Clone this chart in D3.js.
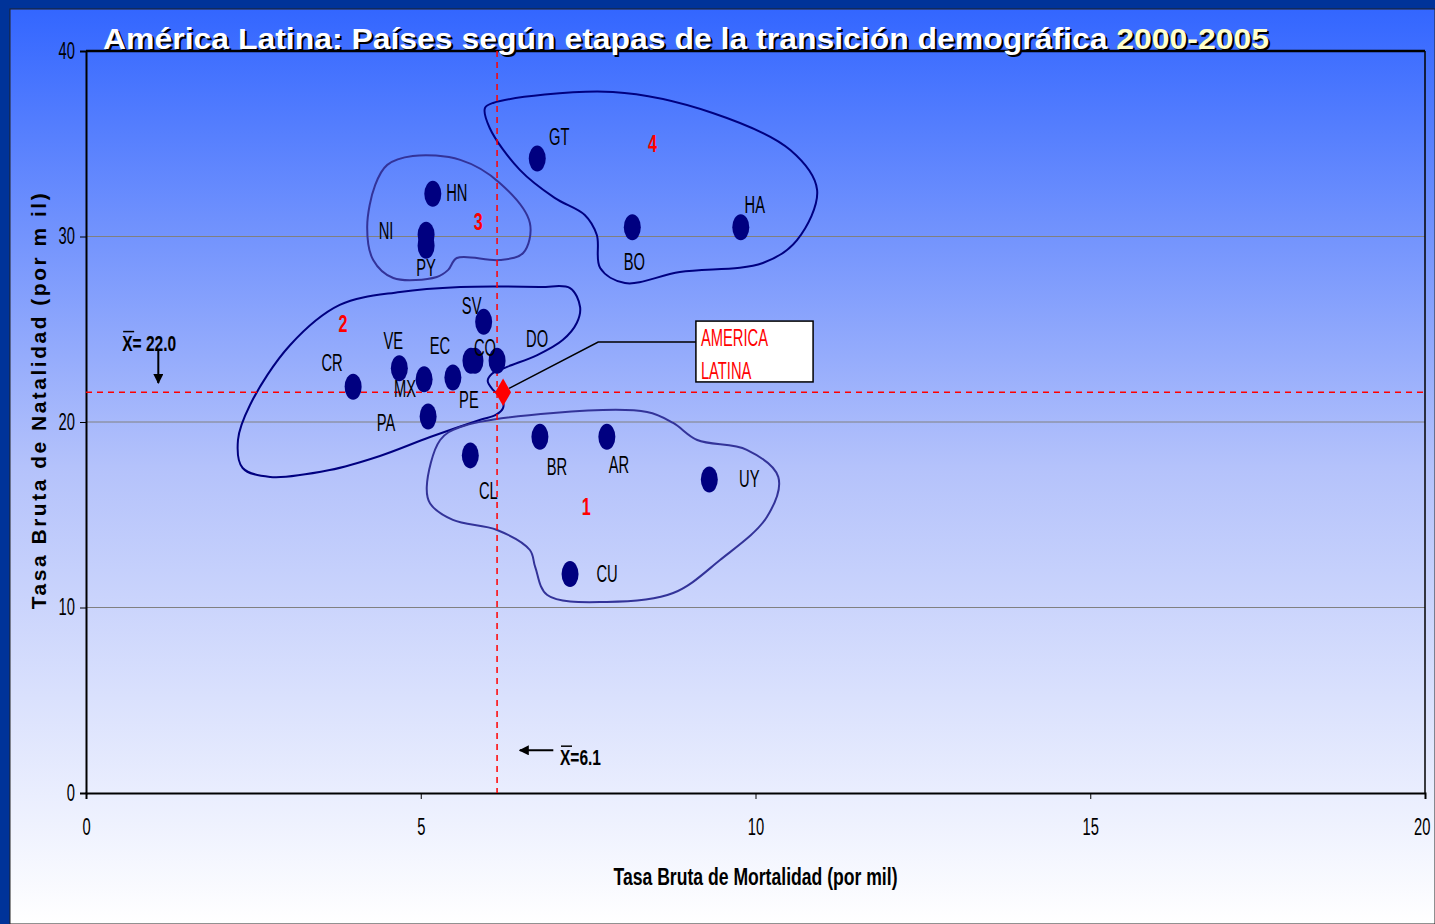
<!DOCTYPE html>
<meta charset="utf-8">
<head>
<style>
  body { margin: 0; }
  text { font-family: "Liberation Sans", Arial, sans-serif; }
  .tick text { font-size: 23px; fill: #000; }
</style>
</head>
<script src="https://d3js.org/d3.v7.min.js"></script>
<div id="chart"></div>
<script>
// countries and their rates (per thousand), 2000-2005
var countries = ["GT","HN","NI","PY","BO","HA","SV","EC","CO","DO","VE","CR","MX","PE","PA","CL","BR","AR","UY","CU"];
var mortality = [6.74,5.18,5.08,5.08,8.16,9.78,5.94,5.75,5.81,6.14,4.68,3.99,5.05,5.48,5.11,5.74,6.78,7.78,9.31,7.23];
var natality  = [34.2,32.3,30.1,29.5,30.5,30.5,25.4,23.3,23.3,23.3,22.9,21.9,22.3,22.4,20.3,18.2,19.2,19.2,16.9,11.8];

// regional average
var latam = {name: ["AMERICA", "LATINA"], mort: 6.23, nat: 21.6};
var meanMort = 6.14, meanNat = 21.6;
var meanMortLabel = "X=6.1", meanNatLabel = "X= 22.0";

var xTicks = [0, 5, 10, 15, 20];
var yTicks = [0, 10, 20, 30, 40];

// stage groups: number label position and outline (data units)
var stages = [
  {n: "4", at: [8.46, 35.0], col: "#000080", outline: [[6.08,37.20],[7.87,37.79],[9.36,36.66],[10.52,34.66],[10.92,32.51],[10.62,29.81],[10.11,28.57],[8.87,28.09],[8.05,27.49],[7.68,28.30],[7.63,30.08],[7.45,31.16],[7.00,32.08],[6.48,33.59],[6.03,35.85],[5.96,36.93]]},
  {n: "3", at: [5.86, 30.8], col: "#333399", outline: [[4.20,30.51],[4.32,32.78],[4.50,33.86],[4.88,34.34],[5.59,34.13],[6.18,32.89],[6.63,30.73],[6.53,29.11],[6.18,28.73],[5.54,28.84],[5.41,28.20],[5.24,27.82],[4.59,27.76],[4.29,28.73]]},
  {n: "2", at: [3.84, 25.3], col: "#000080", outline: [[2.27,19.03],[2.45,20.92],[3.05,24.15],[3.79,26.31],[4.69,27.01],[5.59,27.28],[6.78,27.28],[7.23,27.22],[7.38,26.20],[7.33,25.34],[7.12,24.42],[6.74,23.61],[6.29,22.97],[6.06,22.59],[6.00,22.21],[6.08,21.73],[6.21,21.29],[6.23,20.76],[6.12,20.38],[5.88,20.11],[5.14,19.19],[4.39,18.17],[3.64,17.41],[2.75,17.04],[2.34,17.52]]},
  {n: "1", at: [7.47, 15.4], col: "#333399", outline: [[5.09,16.51],[5.29,19.03],[5.59,19.73],[6.98,20.49],[8.38,20.54],[8.77,19.95],[9.13,19.03],[9.87,18.50],[10.34,17.04],[10.17,14.88],[9.47,12.56],[8.77,10.78],[7.78,10.30],[6.89,10.67],[6.71,12.18],[6.63,13.10],[6.14,14.18],[5.48,14.72],[5.14,15.61]]}
];

// label offsets in px from each dot
var labelOffset = {
  GT:[22,-22], HN:[24,-1], NI:[-40,-4], PY:[0,22], BO:[2,35], HA:[14,-22], SV:[-12,-16],
  EC:[-31,-15], CO:[10,-13], DO:[40,-22], VE:[-6,-27], CR:[-21,-24], MX:[-19,10], PE:[16,23],
  PA:[-42,7], CL:[18,36], BR:[17,30], AR:[12,28], UY:[40,-1], CU:[37,0]
};

// squeeze text horizontally (Arial Narrow look)
function squeeze(sel, f) {
  sel.each(function(){
    var w = this.getComputedTextLength();
    d3.select(this).attr("textLength", w * f).attr("lengthAdjust", "spacingAndGlyphs");
  });
}

var W = 1435, H = 924;
var margin = {top: 51, right: 10, bottom: 131, left: 86};
var width = W - margin.left - margin.right,
    height = H - margin.top - margin.bottom;

var svg = d3.select("#chart").append("svg")
  .attr("width", W).attr("height", H);

var defs = svg.append("defs");
var grad = defs.append("linearGradient").attr("id", "bg")
  .attr("x1", 0).attr("y1", 0).attr("x2", 0).attr("y2", 1);
grad.append("stop").attr("offset", "0%").attr("stop-color", "#3366ff");
grad.append("stop").attr("offset", "50%").attr("stop-color", "#b4c2fb");
grad.append("stop").attr("offset", "100%").attr("stop-color", "#ffffff");

// slide frame
svg.append("rect").attr("width", W).attr("height", H).attr("fill", "#003399");
svg.append("rect").attr("x", 10).attr("y", 9).attr("width", W - 10).attr("height", H - 9)
  .attr("fill", "url(#bg)").attr("stroke", "#222").attr("stroke-width", 1);

var g = svg.append("g").attr("transform", "translate(" + margin.left + "," + margin.top + ")");

var x = d3.scaleLinear().domain([0, 20]).range([0, width]);
var y = d3.scaleLinear().domain([0, 40]).range([height, 0]);

// gridlines
g.selectAll(".grid").data(yTicks.filter(function(d){ return d > 0 && d < 40; }))
  .enter().append("line")
    .attr("x1", 0).attr("x2", width)
    .attr("y1", function(d){ return y(d); }).attr("y2", function(d){ return y(d); })
    .attr("stroke", "#808080").attr("stroke-width", 1);

// plot border
g.append("line").attr("x1", 0).attr("x2", width).attr("y1", 0).attr("y2", 0)
  .attr("stroke", "#000").attr("stroke-width", 2.5);
g.append("line").attr("x1", width).attr("x2", width).attr("y1", 0).attr("y2", height)
  .attr("stroke", "#000").attr("stroke-width", 1.5);

// axes
var xAxis = g.append("g").attr("transform", "translate(0," + height + ")")
  .call(d3.axisBottom(x).tickValues(xTicks).tickSize(6).tickPadding(20));
var yAxis = g.append("g")
  .call(d3.axisLeft(y).tickValues(yTicks).tickSize(6).tickPadding(5));
[xAxis, yAxis].forEach(function(a){
  a.attr("font-family", null).attr("font-size", null);
  a.select(".domain").attr("stroke", "#000").attr("stroke-width", 2);
  a.selectAll(".tick line").attr("stroke", "#000");
  squeeze(a.selectAll(".tick text"), 0.64);
});
// keep the last x label inside the slide
xAxis.selectAll(".tick text").filter(function(d){ return d === 20; })
  .attr("text-anchor", "end").attr("x", 5);

// axis titles
var xt = svg.append("text")
  .attr("x", margin.left + x(10)).attr("y", 885)
  .attr("text-anchor", "middle").attr("font-size", 23).attr("font-weight", "bold")
  .text("Tasa Bruta de Mortalidad (por mil)");
xt.attr("textLength", 284).attr("lengthAdjust", "spacingAndGlyphs");
svg.append("text")
  .attr("transform", "translate(46," + (margin.top + y(20) - 22) + ") rotate(-90)")
  .attr("text-anchor", "middle")
  .attr("font-size", 21).attr("font-weight", "bold").attr("letter-spacing", "2.5px")
  .text("Tasa Bruta de Natalidad (por m il)");

// title with shadow
var title = svg.append("g").attr("font-size", 30).attr("font-weight", "bold");
[[2, 2, "#000", "#000"], [0, 0, "#ffffff", "#ffffcc"]].forEach(function(s){
  var t = title.append("text").attr("x", 103 + s[0]).attr("y", 49 + s[1])
    .attr("textLength", 1166).attr("lengthAdjust", "spacingAndGlyphs");
  t.append("tspan").attr("fill", s[2]).text("América Latina: Países según etapas de la transición demográfica ");
  t.append("tspan").attr("fill", s[3]).text("2000-2005");
});

// stage outlines
var outline = d3.line()
  .x(function(d){ return x(d[0]); }).y(function(d){ return y(d[1]); })
  .curve(d3.curveCatmullRomClosed.alpha(0.5));
g.selectAll(".stage").data(stages).enter().append("path")
  .attr("d", function(d){ return outline(d.outline); })
  .attr("fill", "none")
  .attr("stroke", function(d){ return d.col; })
  .attr("stroke-width", 2);
var nums = g.selectAll(".stageNum").data(stages).enter().append("text")
  .attr("x", function(d){ return x(d.at[0]); }).attr("y", function(d){ return y(d.at[1]); })
  .attr("text-anchor", "middle").attr("dominant-baseline", "central")
  .attr("font-size", 23).attr("font-weight", "bold").attr("fill", "#ff0000")
  .text(function(d){ return d.n; });
squeeze(nums, 0.7);

// mean lines
g.append("line")
  .attr("x1", x(meanMort)).attr("x2", x(meanMort)).attr("y1", 0).attr("y2", height)
  .attr("stroke", "#ff0000").attr("stroke-width", 1.5).attr("stroke-dasharray", "6,5");
g.append("line")
  .attr("x1", 0).attr("x2", width).attr("y1", y(meanNat)).attr("y2", y(meanNat))
  .attr("stroke", "#ff0000").attr("stroke-width", 1.5).attr("stroke-dasharray", "6,5");

// mean notes
defs.append("marker").attr("id", "arr").attr("viewBox", "0 0 10 10")
  .attr("refX", 9).attr("refY", 5).attr("markerWidth", 5).attr("markerHeight", 5)
  .attr("orient", "auto").append("path").attr("d", "M0,0L10,5L0,10z").attr("fill", "#000");

function meanNote(tx, ty, label, len, a) {
  var t = g.append("text")
    .attr("x", x(tx)).attr("y", y(ty))
    .attr("font-size", 22).attr("font-weight", "bold")
    .attr("textLength", len).attr("lengthAdjust", "spacingAndGlyphs")
    .text(label);
  var b = t.node().getBBox();
  g.append("line").attr("x1", b.x + 1).attr("x2", b.x + 12)
    .attr("y1", b.y + 1).attr("y2", b.y + 1).attr("stroke", "#000").attr("stroke-width", 1.5);
  g.append("line")
    .attr("x1", x(a[0])).attr("y1", y(a[1])).attr("x2", x(a[2])).attr("y2", y(a[3]))
    .attr("stroke", "#000").attr("stroke-width", 2).attr("marker-end", "url(#arr)");
}
meanNote(0.54, 23.85, meanNatLabel, 54, [1.08, 23.9, 1.08, 22.1]);
meanNote(7.08, 1.5, meanMortLabel, 41, [6.98, 2.3, 6.48, 2.3]);

// country dots
var pts = countries.map(function(c, i){ return {c: c, m: mortality[i], n: natality[i]}; });
g.selectAll(".dot").data(pts).enter().append("ellipse")
  .attr("cx", function(d){ return x(d.m); }).attr("cy", function(d){ return y(d.n); })
  .attr("rx", 8.5).attr("ry", 13).attr("fill", "#000080");
var labs = g.selectAll(".lab").data(pts).enter().append("text")
  .attr("x", function(d){ return x(d.m) + labelOffset[d.c][0]; })
  .attr("y", function(d){ return y(d.n) + labelOffset[d.c][1]; })
  .attr("text-anchor", "middle").attr("dominant-baseline", "central")
  .attr("font-size", 23).attr("fill", "#000")
  .text(function(d){ return d.c; });
squeeze(labs, 0.64);

// latin america callout
var lx = x(latam.mort), ly = y(latam.nat);
g.append("path")
  .attr("d", d3.line()([[lx + 6, ly - 4], [x(7.65), y(24.31)], [x(9.11), y(24.31)]]))
  .attr("fill", "none").attr("stroke", "#000").attr("stroke-width", 1.5);
g.append("path").attr("transform", "translate(" + lx + "," + ly + ")")
  .attr("d", d3.symbol().type(d3.symbolDiamond).size(220)).attr("fill", "#ff0000");
g.append("rect")
  .attr("x", x(9.11)).attr("y", y(25.44))
  .attr("width", x(10.86) - x(9.11)).attr("height", y(22.16) - y(25.44))
  .attr("fill", "#fff").attr("stroke", "#000").attr("stroke-width", 1.5);
var lt = g.selectAll(".latam").data(latam.name).enter().append("text")
  .attr("x", x(9.11) + 5)
  .attr("y", function(d, i){ return y(25.44) + 17 + i * 33; })
  .attr("dominant-baseline", "central")
  .attr("font-size", 23).attr("fill", "#ff0000")
  .text(function(d){ return d; });
squeeze(lt, 0.64);
</script>
